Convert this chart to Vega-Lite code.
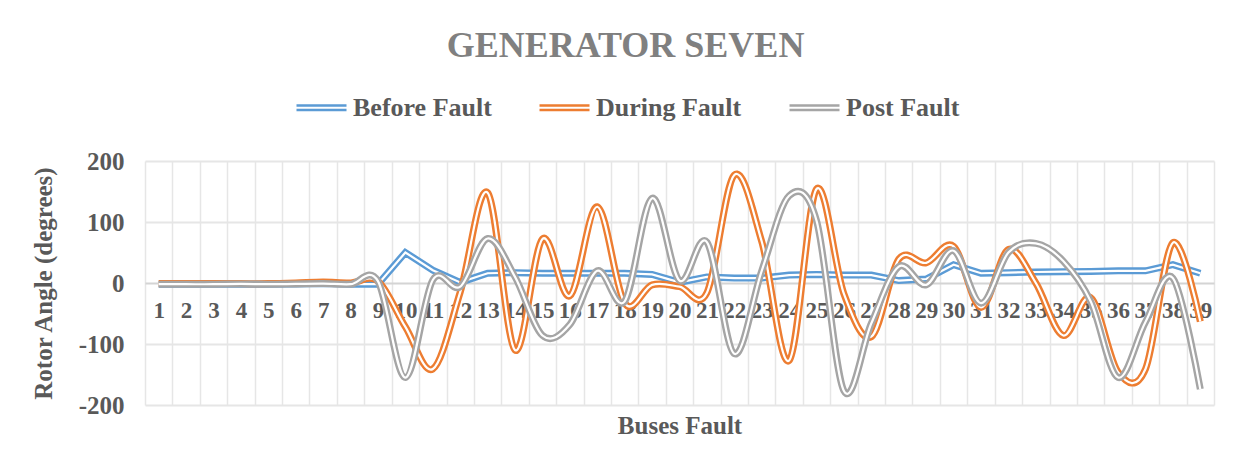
{
  "$schema": "https://vega.github.io/schema/vega-lite/v6.json",
  "width": 1069,
  "height": 244,
  "autosize": {"type": "none"},
  "padding": {"left": 145, "top": 161, "right": 31, "bottom": 65},
  "background": "white",
  "config": {"font": "Liberation Serif", "view": {"stroke": null}},
  "title": {
    "text": "GENERATOR SEVEN",
    "font": "Liberation Serif",
    "fontSize": 36,
    "fontWeight": "bold",
    "color": "#808080",
    "anchor": "middle",
    "frame": "group",
    "dx": -54,
    "offset": 16
  },
  "data": {
    "values": [
      {"bus": 1, "Before Fault": -2, "During Fault": -1, "Post Fault": -2},
      {"bus": 2, "Before Fault": -2, "During Fault": -1, "Post Fault": -2},
      {"bus": 3, "Before Fault": -2, "During Fault": -1, "Post Fault": -2},
      {"bus": 4, "Before Fault": -2, "During Fault": -1, "Post Fault": -1.5},
      {"bus": 5, "Before Fault": -2, "During Fault": -1, "Post Fault": -2},
      {"bus": 6, "Before Fault": -1.5, "During Fault": 0, "Post Fault": -1.5},
      {"bus": 7, "Before Fault": -1, "During Fault": 1.5, "Post Fault": -1},
      {"bus": 8, "Before Fault": -2, "During Fault": 0, "Post Fault": -2},
      {"bus": 9, "Before Fault": -2, "During Fault": 3, "Post Fault": 3},
      {"bus": 10, "Before Fault": 50, "During Fault": -72, "Post Fault": -155},
      {"bus": 11, "Before Fault": 21, "During Fault": -141, "Post Fault": 5},
      {"bus": 12, "Before Fault": 1, "During Fault": -15, "Post Fault": -6},
      {"bus": 13, "Before Fault": 16, "During Fault": 148, "Post Fault": 73},
      {"bus": 14, "Before Fault": 17, "During Fault": -110, "Post Fault": 10},
      {"bus": 15, "Before Fault": 16, "During Fault": 72, "Post Fault": -86},
      {"bus": 16, "Before Fault": 16, "During Fault": -21, "Post Fault": -68},
      {"bus": 17, "Before Fault": 16, "During Fault": 125, "Post Fault": 20},
      {"bus": 18, "Before Fault": 16, "During Fault": -33, "Post Fault": -30},
      {"bus": 19, "Before Fault": 14, "During Fault": -3, "Post Fault": 139},
      {"bus": 20, "Before Fault": 1, "During Fault": -6, "Post Fault": 4},
      {"bus": 21, "Before Fault": 10, "During Fault": -16, "Post Fault": 67},
      {"bus": 22, "Before Fault": 8, "During Fault": 177, "Post Fault": -116},
      {"bus": 23, "Before Fault": 8, "During Fault": 68, "Post Fault": 20},
      {"bus": 24, "Before Fault": 13, "During Fault": -127, "Post Fault": 143},
      {"bus": 25, "Before Fault": 14, "During Fault": 154, "Post Fault": 102},
      {"bus": 26, "Before Fault": 13, "During Fault": -18, "Post Fault": -177},
      {"bus": 27, "Before Fault": 13, "During Fault": -88, "Post Fault": -66},
      {"bus": 28, "Before Fault": 4, "During Fault": 39, "Post Fault": 27},
      {"bus": 29, "Before Fault": 6.5, "During Fault": 33, "Post Fault": -3},
      {"bus": 30, "Before Fault": 30, "During Fault": 60, "Post Fault": 53},
      {"bus": 31, "Before Fault": 16, "During Fault": -40, "Post Fault": -33},
      {"bus": 32, "Before Fault": 17, "During Fault": 55, "Post Fault": 50},
      {"bus": 33, "Before Fault": 18, "During Fault": 0, "Post Fault": 65},
      {"bus": 34, "Before Fault": 18.5, "During Fault": -86, "Post Fault": 36},
      {"bus": 35, "Before Fault": 19, "During Fault": -24, "Post Fault": -30},
      {"bus": 36, "Before Fault": 20, "During Fault": -146, "Post Fault": -155},
      {"bus": 37, "Before Fault": 20, "During Fault": -141, "Post Fault": -64},
      {"bus": 38, "Before Fault": 30, "During Fault": 66, "Post Fault": 8},
      {"bus": 39, "Before Fault": 16, "During Fault": -63, "Post Fault": -174}
    ]
  },
  "transform": [
    {"fold": ["Before Fault", "During Fault", "Post Fault"], "as": ["series", "value"]}
  ],
  "encoding": {
    "x": {
      "field": "bus",
      "type": "ordinal",
      "bandPosition": 0.5,
      "scale": {"type": "band", "paddingInner": 0, "paddingOuter": 0},
      "axis": {
        "title": "Buses Fault",
        "orient": "bottom",
        "offset": -122,
        "domain": false,
        "ticks": false,
        "grid": true,
        "tickBand": "extent",
        "gridColor": "#e6e6e6",
        "gridWidth": 1.5,
        "labelAngle": 0,
        "labelFont": "Liberation Serif",
        "labelFontSize": 23,
        "labelFontWeight": "bold",
        "labelColor": "#595959",
        "labelPadding": 16,
        "labelOverlap": false,
        "titleFont": "Liberation Serif",
        "titleFontSize": 25,
        "titleFontWeight": "bold",
        "titleColor": "#595959",
        "titleY": 142,
        "titleBaseline": "middle"
      }
    },
    "y": {
      "field": "value",
      "type": "quantitative",
      "scale": {"domain": [-200, 200], "nice": false},
      "axis": {
        "title": "Rotor Angle (degrees)",
        "values": [-200, -100, 0, 100, 200],
        "labelExpr": "'' + datum.value",
        "domain": false,
        "ticks": false,
        "labelPadding": 21,
        "labelFont": "Liberation Serif",
        "labelFontSize": 25,
        "labelFontWeight": "bold",
        "labelColor": "#595959",
        "gridColor": {"condition": {"test": "datum.value === 0", "value": "#d4d4d4"}, "value": "#e6e6e6"},
        "gridWidth": 2,
        "titleFont": "Liberation Serif",
        "titleFontSize": 25,
        "titleFontWeight": "bold",
        "titleColor": "#595959",
        "titlePadding": 22
      }
    }
  },
  "layer": [
    {
      "transform": [{"filter": "datum.series === 'Before Fault'"}],
      "mark": {"type": "line", "interpolate": "linear", "strokeWidth": 7},
      "encoding": {
        "color": {
          "field": "series",
          "type": "nominal",
          "scale": {"domain": ["Before Fault", "During Fault", "Post Fault"], "range": ["#5B9BD5", "#ED7D31", "#A5A5A5"]},
          "legend": {
            "orient": "none",
            "legendX": 150,
            "legendY": -80,
            "direction": "horizontal",
            "title": null,
            "symbolType": "M-1,-0.09H1M-1,0.09H1",
            "symbolSize": 2500,
            "symbolStrokeWidth": 2.5,
            "labelFont": "Liberation Serif",
            "labelFontSize": 26,
            "labelFontWeight": "bold",
            "labelColor": "#595959",
            "labelLimit": 300,
            "columnPadding": 42,
            "labelOffset": 5
          }
        }
      }
    },
    {
      "transform": [{"filter": "datum.series === 'Before Fault'"}],
      "mark": {"type": "line", "interpolate": "linear", "strokeWidth": 2.2, "color": "white"}
    },
    {
      "transform": [{"filter": "datum.series === 'During Fault'"}],
      "mark": {"type": "line", "interpolate": "cardinal", "strokeWidth": 7},
      "encoding": {"color": {"field": "series", "type": "nominal"}}
    },
    {
      "transform": [{"filter": "datum.series === 'During Fault'"}],
      "mark": {"type": "line", "interpolate": "cardinal", "strokeWidth": 2.2, "color": "white"}
    },
    {
      "transform": [{"filter": "datum.series === 'Post Fault'"}],
      "mark": {"type": "line", "interpolate": "cardinal", "strokeWidth": 7},
      "encoding": {"color": {"field": "series", "type": "nominal"}}
    },
    {
      "transform": [{"filter": "datum.series === 'Post Fault'"}],
      "mark": {"type": "line", "interpolate": "cardinal", "strokeWidth": 2.2, "color": "white"}
    }
  ]
}
